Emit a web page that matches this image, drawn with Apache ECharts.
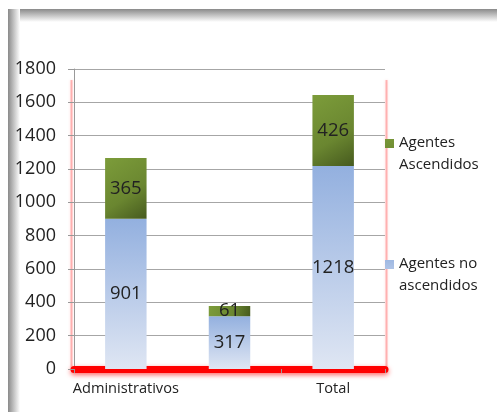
<!DOCTYPE html>
<html>
<head>
<meta charset="utf-8">
<script src="https://cdn.jsdelivr.net/npm/echarts@6/dist/echarts.min.js"></script>
<style>
  html, body { margin: 0; padding: 0; background: #fff; }
  #wrap { position: relative; width: 497px; height: 412px; overflow: hidden; }
  .band { position: absolute; }
  #topBand { left: 8px; top: 9px; width: 489px; height: 13px; background: linear-gradient(to bottom, #8a8a8a, #ffffff); }
  #leftBand { left: 8px; top: 9px; width: 12px; height: 403px; background: linear-gradient(to right, #8a8a8a, #ffffff); }
  #chart { position: absolute; left: 0; top: 0; width: 497px; height: 412px; }
</style>
</head>
<body>
<div id="wrap">
  <div class="band" id="topBand"></div>
  <div class="band" id="leftBand"></div>
  <div id="chart"></div>
</div>
<script>
var categories = ['Administrativos', '', 'Total'];
var noAscendidos = [901, 317, 1218];
var ascendidos = [365, 61, 426];
var yTicks = [0, 200, 400, 600, 800, 1000, 1200, 1400, 1600, 1800];

var font = 'Open Sans';
var myChart = echarts.init(document.getElementById('chart'));

// legend square sits at the first text line, not the middle of the two
var legendIcon = 'path://M0,7h9v9h-9z M0,0h0.01v0.01z M0,44h0.01v0.01z';

var option = {
  backgroundColor: 'transparent',
  animation: false,
  textStyle: { fontFamily: font },
  graphic: [
    {
      type: 'line',
      shape: { x1: 71.5, y1: 80, x2: 71.5, y2: 369 },
      style: { stroke: 'rgba(255,60,60,0.35)', lineWidth: 2, shadowBlur: 3, shadowColor: 'rgba(255,0,0,0.4)' }
    },
    {
      type: 'line',
      shape: { x1: 386.5, y1: 80, x2: 386.5, y2: 369 },
      style: { stroke: 'rgba(255,60,60,0.35)', lineWidth: 2, shadowBlur: 3, shadowColor: 'rgba(255,0,0,0.4)' }
    }
  ],
  grid: { left: 74, right: 112, top: 69, bottom: 43 },
  legend: {
    orient: 'vertical',
    left: 385,
    top: 132,
    padding: 0,
    itemWidth: 9,
    itemHeight: 44,
    itemGap: 77,
    icon: legendIcon,
    data: ['Agentes\nAscendidos', 'Agentes no\nascendidos'],
    textStyle: { fontFamily: font, fontSize: 15, color: '#222', lineHeight: 22 }
  },
  xAxis: {
    type: 'category',
    data: categories,
    axisLine: {
      lineStyle: { color: '#ff0000', width: 7, shadowColor: 'rgba(255,0,0,0.6)', shadowBlur: 5, shadowOffsetY: 2 }
    },
    axisTick: { show: true, length: 4, lineStyle: { color: '#999' } },
    axisLabel: { fontFamily: font, fontSize: 14.6, color: '#222', margin: 12 }
  },
  yAxis: {
    type: 'value',
    min: 0,
    max: yTicks[yTicks.length - 1],
    interval: yTicks[1] - yTicks[0],
    axisLine: { show: true, lineStyle: { color: '#999' } },
    axisTick: { show: true, length: 6, lineStyle: { color: '#999' } },
    splitLine: { lineStyle: { color: '#a6a6a6' } },
    axisLabel: {
      fontFamily: font, fontSize: 18, color: '#222', margin: 18,
      formatter: function (v) { return String(v) }
    }
  },
  series: [
    {
      name: 'Agentes no\nascendidos',
      type: 'bar',
      stack: 'total',
      barWidth: '40%',
      data: noAscendidos,
      itemStyle: {
        color: new echarts.graphic.LinearGradient(0, 0, 0, 1, [
          { offset: 0, color: '#93b0df' },
          { offset: 1, color: '#dfe6f3' }
        ])
      },
      label: { show: true, position: 'inside', fontFamily: font, fontSize: 18.5, color: '#222' }
    },
    {
      name: 'Agentes\nAscendidos',
      type: 'bar',
      stack: 'total',
      barWidth: '40%',
      data: ascendidos,
      itemStyle: {
        color: new echarts.graphic.LinearGradient(0, 0, 1, 1, [
          { offset: 0, color: '#7c9c3a' },
          { offset: 0.6, color: '#6a8630' },
          { offset: 1, color: '#465a1e' }
        ])
      },
      label: { show: true, position: 'inside', fontFamily: font, fontSize: 18.5, color: '#222' }
    }
  ]
};

myChart.setOption(option);
</script>
</body>
</html>
